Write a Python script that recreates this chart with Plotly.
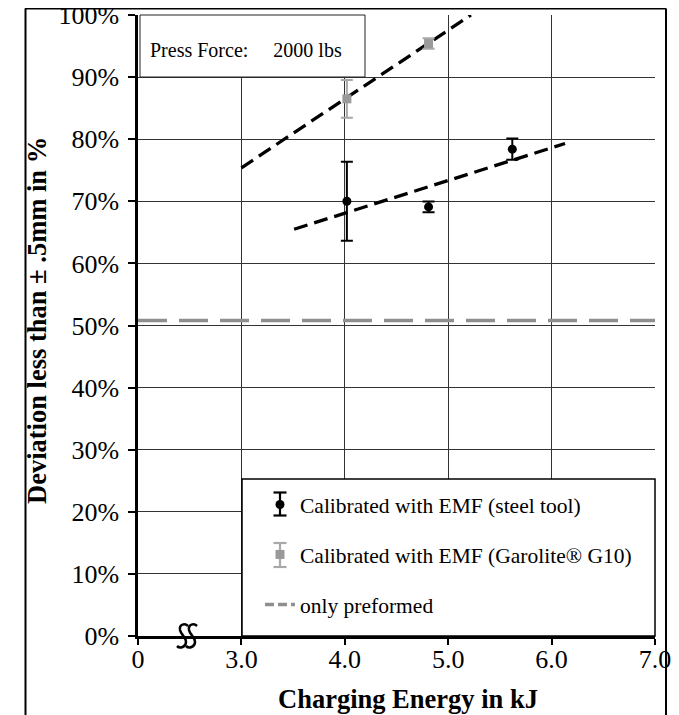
import plotly.graph_objects as go

# ---------------- data ----------------
steel_x = [4.02, 4.81, 5.62]
steel_y = [70.0, 69.1, 78.4]
steel_err = [6.35, 0.85, 1.7]

g10_x = [4.02, 4.81]
g10_y = [86.5, 95.4]
g10_err = [3.05, 0.85]

steel_trend_x = [3.51, 6.13]
steel_trend_y = [65.5, 79.3]

g10_trend_x = [3.0, 5.22]
g10_trend_y = [75.4, 100.0]

preformed_x = [2.0, 7.0]
preformed_y = [50.8, 50.8]

x_tickvals = [2, 3, 4, 5, 6, 7]
x_ticktext = ["0", "3.0", "4.0", "5.0", "6.0", "7.0"]
y_tickvals = [0, 10, 20, 30, 40, 50, 60, 70, 80, 90, 100]
y_ticktext = ["0%", "10%", "20%", "30%", "40%", "50%", "60%", "70%", "80%", "90%", "100%"]

legend_names = ["Calibrated with EMF (steel tool)",
                "Calibrated with EMF (Garolite® G10)",
                "only preformed"]

# ---------------- layout geometry (page pixels) ----------------
PAGE_W, PAGE_H = 679, 715
OFF = 8                       # default body margin of the html page
W, H = PAGE_W - OFF, PAGE_H - OFF
L, R, T, B = 138, 655, 15, 636   # plot area in page pixels
FONT = "Liberation Serif"


def px(x):
    return (x - L) / (R - L)


def py(y):
    return (B - y) / (B - T)


fig = go.Figure()

fig.add_trace(go.Scatter(
    x=g10_trend_x, y=g10_trend_y, mode="lines", showlegend=False,
    line=dict(color="black", width=3.3, dash="14px,7px"), hoverinfo="skip"))
fig.add_trace(go.Scatter(
    x=steel_trend_x, y=steel_trend_y, mode="lines", showlegend=False,
    line=dict(color="black", width=3.3, dash="14px,7px"), hoverinfo="skip"))

fig.add_trace(go.Scatter(
    x=steel_x, y=steel_y, mode="markers", name=legend_names[0], legendgroup="a",
    marker=dict(symbol="circle", size=9, color="black"),
    error_y=dict(type="data", array=steel_err, color="black", thickness=2, width=6)))
fig.add_trace(go.Scatter(
    x=g10_x, y=g10_y, mode="markers", name=legend_names[1], legendgroup="b",
    marker=dict(symbol="square", size=9, color="#9a9a9a"),
    error_y=dict(type="data", array=g10_err, color="#a8a8a8", thickness=2, width=6)))
fig.add_trace(go.Scatter(
    x=preformed_x, y=preformed_y, mode="lines", name=legend_names[2], legendgroup="c",
    showlegend=False,
    line=dict(color="#8f8f8f", width=3.5, dash="29px,12px")))
# legend-only entry with the short dash style used in the reference legend
fig.add_trace(go.Scatter(
    x=[None], y=[None], mode="lines", name=legend_names[2], legendgroup="c",
    line=dict(color="#8f8f8f", width=3.5, dash="9px,4px")))

shapes = []
# legend box
shapes.append(dict(type="rect", xref="paper", yref="paper",
                   x0=px(242), x1=px(655), y0=py(636), y1=py(479),
                   fillcolor="white", line=dict(color="black", width=1.5), layer="above"))
# press force box
shapes.append(dict(type="rect", xref="paper", yref="paper",
                   x0=px(140), x1=px(365), y0=py(77), y1=py(15),
                   fillcolor="white", line=dict(color="#222", width=1), layer="above"))
# outer frame
for (x0, y0, x1, y1, w) in [(25, 8.5, 666, 8.5, 2),
                            (25.5, 8.5, 25.5, 720, 2), (666, 8.5, 666, 720, 2)]:
    shapes.append(dict(type="line", xref="paper", yref="paper",
                       x0=px(x0), y0=py(y0), x1=px(x1), y1=py(y1),
                       line=dict(color="black", width=w), layer="above"))


def p(x, y):
    return f"{px(x):.5f},{py(y):.5f}"


# axis break symbol (two S strokes)
for cx in (183, 192):
    cy = 636
    path = (f"M {p(cx + 5, cy - 10)} "
            f"C {p(cx + 2, cy - 13)} {p(cx - 4, cy - 12)} {p(cx - 3, cy - 6)} "
            f"C {p(cx - 2, cy - 1)} {p(cx + 3, cy + 1)} {p(cx + 3, cy + 6)} "
            f"C {p(cx + 3, cy + 11)} {p(cx - 3, cy + 13)} {p(cx - 6, cy + 10)}")
    shapes.append(dict(type="path", xref="paper", yref="paper", path=path,
                       line=dict(color="black", width=2.5), layer="above"))

# error-bar glyphs in the legend
for (cy, half, col) in [(504, 11.5, "black"), (555, 12, "#a8a8a8")]:
    cx = 280
    shapes.append(dict(type="line", xref="paper", yref="paper",
                       x0=px(cx), x1=px(cx), y0=py(cy - half), y1=py(cy + half),
                       line=dict(color=col, width=2.2), layer="above"))
    for yy in (cy - half, cy + half):
        shapes.append(dict(type="line", xref="paper", yref="paper",
                           x0=px(cx - 6.5), x1=px(cx + 6.5), y0=py(yy), y1=py(yy),
                           line=dict(color=col, width=2.2), layer="above"))

annotations = [
    dict(text="Press Force:\u00a0\u00a0\u00a0\u00a0\u00a02000 lbs", xref="paper", yref="paper",
         x=px(148), y=py(50), xanchor="left", yanchor="middle", showarrow=False,
         font=dict(family=FONT, size=20, color="black")),
    dict(text="<b>Charging Energy in kJ</b>", xref="paper", yref="paper",
         x=px(408), y=py(699), xanchor="center", yanchor="middle", showarrow=False,
         font=dict(family=FONT, size=26.5, color="black")),
    dict(text="<b>Deviation less than ± .5mm in %</b>", xref="paper", yref="paper",
         x=px(37), y=py(321), xanchor="center", yanchor="middle", showarrow=False,
         textangle=-90, font=dict(family=FONT, size=26.5, color="black")),
]

fig.update_layout(
    width=W, height=H,
    margin=dict(l=L - OFF, r=PAGE_W - R, t=T - OFF, b=PAGE_H - B, autoexpand=False),
    paper_bgcolor="white", plot_bgcolor="white",
    font=dict(family=FONT, color="black"),
    showlegend=True,
    legend=dict(x=px(260), y=py(484), xanchor="left", yanchor="top",
                bgcolor="rgba(0,0,0,0)", borderwidth=0,
                font=dict(family=FONT, size=21.5, color="black"),
                tracegroupgap=19, itemwidth=30, traceorder="grouped"),
    shapes=shapes,
    annotations=annotations,
)

fig.update_xaxes(
    range=[2, 7], tickmode="array", tickvals=x_tickvals, ticktext=x_ticktext,
    showgrid=True, gridcolor="#333", gridwidth=1.2,
    showline=True, linecolor="black", linewidth=2.5,
    ticks="outside", ticklen=6, tickwidth=2, tickcolor="black",
    tickfont=dict(family=FONT, size=26, color="black"), ticklabelstandoff=-8,
    ticklabeloverflow="allow", zeroline=False, fixedrange=True)
fig.update_yaxes(
    range=[0, 100], tickmode="array", tickvals=y_tickvals, ticktext=y_ticktext,
    showgrid=True, gridcolor="#333", gridwidth=1.2,
    showline=True, linecolor="black", linewidth=2.5,
    ticks="outside", ticklen=7, tickwidth=2, tickcolor="black",
    tickfont=dict(family=FONT, size=26, color="black"), ticklabelstandoff=4,
    ticklabeloverflow="allow", zeroline=False, fixedrange=True)

fig.write_html("out.html")
